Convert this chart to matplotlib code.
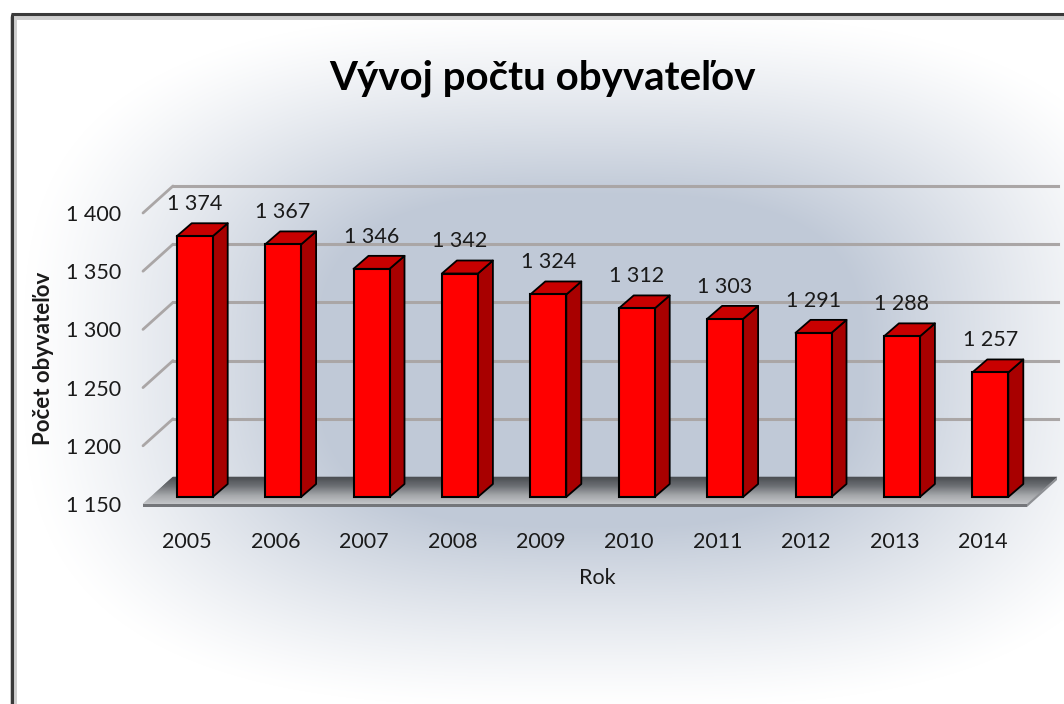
import numpy as np
import matplotlib.pyplot as plt
from matplotlib.patches import Polygon
from matplotlib.lines import Line2D
from matplotlib.colors import LinearSegmentedColormap

plt.rcParams['font.family'] = ['Lato', 'DejaVu Sans']

# -----------------------------
# Data
# -----------------------------
years = ["2005", "2006", "2007", "2008", "2009", "2010", "2011", "2012", "2013", "2014"]
population = [1374, 1367, 1346, 1342, 1324, 1312, 1303, 1291, 1288, 1257]
y_ticks = [1150, 1200, 1250, 1300, 1350, 1400]
title = "Vývoj počtu obyvateľov"
x_title = "Rok"
y_title = "Počet obyvateľov"


def fmt(v):
    return f"{v:,}".replace(",", " ")


W, H = 1064, 704
fig = plt.figure(figsize=(W / 100, H / 100), dpi=100)

# -----------------------------
# Background (bluish glow behind the plot)
# -----------------------------
bg = fig.add_axes([0, 0, 1, 1])
bg.set_axis_off()
yy, xx = np.mgrid[0:H, 0:W]
r = (np.abs((xx - 590) / 540.0) ** 3 + np.abs((yy - 360) / 330.0) ** 3) ** (1 / 3.0)
w = np.clip((1.05 - r) / 0.55, 0, 1)
w = w ** 1.2
c_in = np.array([192, 201, 215]) / 255.0
c_out = np.array([1.0, 1.0, 1.0])
img = c_out[None, None, :] * (1 - w[..., None]) + c_in[None, None, :] * w[..., None]
bg.imshow(img, extent=[0, W, H, 0], aspect='auto')
bg.set_xlim(0, W)
bg.set_ylim(H, 0)

# frame (cropped on right / bottom)
bg.add_line(Line2D([13, 13], [16, H], color="#cfcfcf", lw=5, solid_capstyle='butt'))
bg.add_line(Line2D([13, W], [16, 16], color="#cfcfcf", lw=5, solid_capstyle='butt'))
bg.add_line(Line2D([12, 12], [14, H], color="#3a3a3a", lw=2.2, solid_capstyle='butt'))
bg.add_line(Line2D([11, W], [14, 14], color="#3a3a3a", lw=2.2, solid_capstyle='butt'))
bg.fill_between([0, 11], 0, H, color="white")
bg.fill_between([0, W], 0, 13, color="white")

# -----------------------------
# Main axes (front plane of the 3D box)
# -----------------------------
left_px, right_px, top_px, bot_px = 143, 1027, 213, 504
ax = fig.add_axes([left_px / W, (H - bot_px) / H, (right_px - left_px) / W, (bot_px - top_px) / H])
ax.patch.set_alpha(0)
n = len(years)
x = np.arange(n)
ax.set_xlim(-0.5, n - 0.5)
ax.set_ylim(y_ticks[0], y_ticks[-1])
for s in ax.spines.values():
    s.set_visible(False)

ux = n / (right_px - left_px)                          # data units per px (x)
uy = (y_ticks[-1] - y_ticks[0]) / (bot_px - top_px)    # data units per px (y)

# depth of the box and of the bars (in px)
box_dx, box_dy = 30, 27
bar_off_dx, bar_off_dy = 7.5, 7
bar_dx, bar_dy = 15, 13

x0, x1 = -0.5, n - 0.5
ymin = y_ticks[0]

# floor slab (gradient: dark at back, light at front)
floor_cmap = LinearSegmentedColormap.from_list("fl", ["#c6c8cb", "#a4a6a9", "#6a6d71", "#4a4d51"])
steps = 28
for k in range(steps):
    f0, f1 = k / steps, (k + 1) / steps
    pts = [(x0 + f0 * box_dx * ux, ymin + f0 * box_dy * uy),
           (x1 + f0 * box_dx * ux, ymin + f0 * box_dy * uy),
           (x1 + f1 * box_dx * ux, ymin + f1 * box_dy * uy),
           (x0 + f1 * box_dx * ux, ymin + f1 * box_dy * uy)]
    col = floor_cmap((f0 + f1) / 2)
    ax.add_patch(Polygon(pts, closed=True, facecolor=col, edgecolor=col, lw=0.4,
                         zorder=1, clip_on=False))
thick = 3 * uy
ax.add_patch(Polygon([(x0, ymin), (x1, ymin), (x1, ymin - thick), (x0, ymin - thick)],
                     closed=True, facecolor="#74767a", edgecolor='none', zorder=1.5, clip_on=False))
ax.add_patch(Polygon([(x1, ymin), (x1 + box_dx * ux, ymin + box_dy * uy),
                      (x1 + box_dx * ux, ymin + box_dy * uy - thick), (x1, ymin - thick)],
                     closed=True, facecolor="#8e9094", edgecolor='none', zorder=1.5, clip_on=False))

# gridlines: left wall diagonals + back wall lines
for v in y_ticks[1:]:
    ax.plot([x0, x0 + box_dx * ux], [v, v + box_dy * uy], color="#aaa6a6", lw=2.0,
            zorder=0.8, clip_on=False, solid_capstyle='round')
    ax.plot([x0 + box_dx * ux, x1 + box_dx * ux + 1 * ux], [v + box_dy * uy] * 2, color="#aaa6a6",
            lw=2.2, zorder=0.8, clip_on=False)

# -----------------------------
# Bars
# -----------------------------
bw = 36 * ux
ox, oy = bar_off_dx * ux, bar_off_dy * uy
ddx, ddy = bar_dx * ux, bar_dy * uy
for i, v in enumerate(population):
    cx = x[i] + ox
    l, rr = cx - bw / 2, cx + bw / 2
    b, t = ymin + oy, v + oy
    side = [(rr, b), (rr + ddx, b + ddy), (rr + ddx, t + ddy), (rr, t)]
    top = [(l, t), (rr, t), (rr + ddx, t + ddy), (l + ddx, t + ddy)]
    ax.add_patch(Polygon(side, closed=True, facecolor="#a80000", edgecolor="black", lw=1.3,
                         zorder=3, clip_on=False, joinstyle='round'))
    ax.add_patch(Polygon(top, closed=True, facecolor="#c80000", edgecolor="black", lw=1.3,
                         zorder=3, clip_on=False, joinstyle='round'))
    ax.bar(cx, v - ymin, bottom=b, width=bw, color="#ff0000", edgecolor="black", lw=1.5,
           zorder=4, clip_on=False)
    ax.annotate(fmt(v), xy=(cx, t), xytext=(0, 16), textcoords='offset points',
                ha='center', va='bottom', fontsize=15.5, color="#1a1a1a", zorder=5)

# -----------------------------
# Axes labels / ticks
# -----------------------------
ax.set_yticks(y_ticks)
ax.set_yticklabels([fmt(v) for v in y_ticks], fontsize=15.5, color="#1a1a1a")
ax.set_xticks(x)
ax.set_xticklabels(years, fontsize=15.5, color="#1a1a1a")
ax.tick_params(axis='y', length=0, pad=16)
ax.tick_params(axis='x', length=0, pad=20)

ax.set_xlabel(x_title, fontsize=15.5, color="#1a1a1a")
ax.xaxis.set_label_coords((597 - left_px) / (right_px - left_px), -(568 - bot_px) / (bot_px - top_px))
ax.set_ylabel(y_title, fontsize=16, fontweight='bold', color="#1a1a1a")
ax.yaxis.set_label_coords(-(left_px - 54) / (right_px - left_px), (bot_px - 358) / (bot_px - top_px))

fig.text(542 / W, 1 - 78 / H, title, ha='center', va='center', fontsize=29, fontweight='bold', color="black")

fig.savefig("out.png", dpi=100)
